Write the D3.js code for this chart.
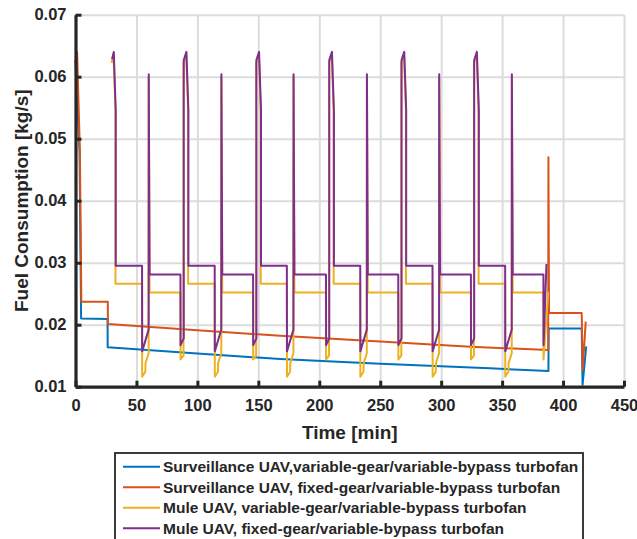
<!DOCTYPE html>
<html>
<head>
<meta charset="utf-8">
<script src="https://cdn.jsdelivr.net/npm/d3@7"></script>
<style>
  html, body { margin: 0; padding: 0; background: #fff; }
  svg { display: block; }
  text { font-family: "Liberation Sans", Arial, Helvetica, sans-serif; font-weight: 700; fill: #262626; }
</style>
</head>
<body>
<svg id="chart" width="637" height="539"></svg>
<script>
// Fuel flow histories [time (min), fuel consumption (kg/s)]
const survVariableGear = [
  [0, 0.0627], [0.4, 0.0600], [3.3, 0.0480], [4.6, 0.0210], [26.3, 0.0209], [26.4, 0.01636],
  [100, 0.01535], [168, 0.01446], [250, 0.0137], [340, 0.01297], [388, 0.01253], [388.2, 0.0194],
  [415.3, 0.0194], [416.0, 0.0103], [419.0, 0.0165]
];

const survFixedGear = [
  [0, 0.0622], [1.3, 0.0640], [3.6, 0.0480], [4.8, 0.0237], [26.5, 0.0237],
  [26.6, 0.0201], [100, 0.0191], [168, 0.0182], [250, 0.0173], [324, 0.01645],
  [387.8, 0.0159], [388.0, 0.0470], [388.5, 0.0219], [415.3, 0.0219],
  [416.1, 0.0127], [418.6, 0.0205]
];

const muleVariableGear = [
  [29.6, 0.0622], [31.2, 0.0636], [32.8, 0.0546], [32.8, 0.0266],
  [54.6, 0.0266], [54.7, 0.0116], [57.3, 0.0124], [57.4, 0.0138], [60.0, 0.0154], [60.1, 0.0600], [60.8, 0.0252],
  [86.1, 0.0252], [86.2, 0.0144], [88.6, 0.0150], [88.6, 0.0622], [90.8, 0.0636], [92.4, 0.0546], [92.4, 0.0266],
  [114.2, 0.0266], [114.3, 0.0116], [116.9, 0.0124], [117.0, 0.0138], [119.6, 0.0154], [119.7, 0.0600], [120.4, 0.0252],
  [145.7, 0.0252], [145.8, 0.0144], [148.2, 0.0150], [148.2, 0.0622], [150.4, 0.0636], [152.0, 0.0546], [152.0, 0.0266],
  [173.4, 0.0266], [173.5, 0.0116], [176.1, 0.0124], [176.2, 0.0138], [178.8, 0.0154], [178.9, 0.0600], [179.6, 0.0252],
  [205.5, 0.0252], [205.6, 0.0144], [208.0, 0.0150], [208.0, 0.0622], [210.2, 0.0636], [211.8, 0.0546], [211.8, 0.0266],
  [233.6, 0.0266], [233.7, 0.0116], [236.3, 0.0124], [236.4, 0.0138], [239.0, 0.0154], [239.1, 0.0600], [239.8, 0.0252],
  [264.8, 0.0252], [264.9, 0.0144], [267.3, 0.0150], [267.3, 0.0622], [269.5, 0.0636], [271.1, 0.0546], [271.1, 0.0266],
  [292.9, 0.0266], [293.0, 0.0116], [295.6, 0.0124], [295.7, 0.0138], [298.3, 0.0154], [298.4, 0.0600], [299.1, 0.0252],
  [324.4, 0.0252], [324.5, 0.0144], [326.9, 0.0150], [326.9, 0.0622], [329.1, 0.0636], [330.7, 0.0546], [330.7, 0.0266],
  [352.5, 0.0266], [352.6, 0.0116], [355.2, 0.0124], [355.3, 0.0138], [357.9, 0.0154], [358.0, 0.0600], [358.7, 0.0252],
  [383.9, 0.0252], [384.0, 0.0144], [387.8, 0.0253]
];

const muleFixedGear = [
  [30.0, 0.0628], [31.4, 0.0640], [33.0, 0.0546], [33.0, 0.0295],
  [54.6, 0.0295], [54.7, 0.0157], [60.0, 0.0192], [60.1, 0.0604], [60.8, 0.0281],
  [86.1, 0.0281], [86.2, 0.0167], [88.8, 0.0178], [88.8, 0.0627], [91.0, 0.0640], [92.6, 0.0546], [92.6, 0.0295],
  [114.2, 0.0295], [114.3, 0.0157], [119.6, 0.0192], [119.7, 0.0604], [120.4, 0.0281],
  [145.7, 0.0281], [145.8, 0.0167], [148.4, 0.0178], [148.4, 0.0627], [150.6, 0.0640], [152.2, 0.0546], [152.2, 0.0295],
  [173.4, 0.0295], [173.5, 0.0157], [178.8, 0.0192], [178.9, 0.0604], [179.6, 0.0281],
  [205.5, 0.0281], [205.6, 0.0167], [208.2, 0.0178], [208.2, 0.0627], [210.4, 0.0640], [212.0, 0.0546], [212.0, 0.0295],
  [233.6, 0.0295], [233.7, 0.0157], [239.0, 0.0192], [239.1, 0.0604], [239.8, 0.0281],
  [264.8, 0.0281], [264.9, 0.0167], [267.5, 0.0178], [267.5, 0.0627], [269.7, 0.0640], [271.3, 0.0546], [271.3, 0.0295],
  [292.9, 0.0295], [293.0, 0.0157], [298.3, 0.0192], [298.4, 0.0604], [299.1, 0.0281],
  [324.4, 0.0281], [324.5, 0.0167], [327.1, 0.0178], [327.1, 0.0627], [329.3, 0.0640], [330.9, 0.0546], [330.9, 0.0295],
  [352.5, 0.0295], [352.6, 0.0157], [357.9, 0.0192], [358.0, 0.0604], [358.7, 0.0281],
  [383.9, 0.0281], [384.0, 0.0167], [386.4, 0.0298]
];

const seriesNames = [
  "Surveillance UAV,variable-gear/variable-bypass turbofan",
  "Surveillance UAV, fixed-gear/variable-bypass turbofan",
  "Mule UAV, variable-gear/variable-bypass turbofan",
  "Mule UAV, fixed-gear/variable-bypass turbofan"
];
const seriesColors = ["#0072BD", "#D95319", "#EDB120", "#7E2F8E"];
const seriesData = [survVariableGear, survFixedGear, muleVariableGear, muleFixedGear];

const xTicks = [0, 50, 100, 150, 200, 250, 300, 350, 400, 450];
const yTicks = [0.01, 0.02, 0.03, 0.04, 0.05, 0.06, 0.07];

const svg = d3.select("#chart");
const plot = { left: 75.5, right: 624, top: 14.7, bottom: 386.7 };

const x = d3.scaleLinear().domain([0, 450]).range([plot.left, plot.right]);
const y = d3.scaleLinear().domain([0.01, 0.07]).range([plot.bottom, plot.top]);

// grid
svg.append("g")
  .attr("transform", `translate(0,${plot.bottom})`)
  .call(d3.axisBottom(x).tickValues(xTicks).tickSize(-(plot.bottom - plot.top)).tickFormat(""))
  .call(g => g.select(".domain").remove())
  .call(g => g.selectAll("line").attr("stroke", "#dcdcdc").attr("stroke-width", 2));
svg.append("g")
  .attr("transform", `translate(${plot.left},0)`)
  .call(d3.axisLeft(y).tickValues(yTicks).tickSize(-(plot.right - plot.left)).tickFormat(""))
  .call(g => g.select(".domain").remove())
  .call(g => g.selectAll("line").attr("stroke", "#dcdcdc").attr("stroke-width", 2));

// series
const line = d3.line().x(d => x(d[0])).y(d => y(d[1]));
svg.append("g").selectAll("path")
  .data(seriesData)
  .join("path")
  .attr("d", line)
  .attr("fill", "none")
  .attr("stroke", (d, i) => seriesColors[i])
  .attr("stroke-width", 2)
  .attr("stroke-linejoin", "round");

// axes
const xAxis = svg.append("g")
  .attr("transform", `translate(0,${plot.bottom})`)
  .call(d3.axisBottom(x).tickValues(xTicks).tickFormat(d3.format("d"))
    .tickSizeInner(-6).tickSizeOuter(0).tickPadding(13));
const yAxis = svg.append("g")
  .attr("transform", `translate(${plot.left},0)`)
  .call(d3.axisLeft(y).tickValues(yTicks).tickFormat(d3.format(".2f"))
    .tickSizeInner(-6).tickSizeOuter(0).tickPadding(9));

[xAxis, yAxis].forEach(g => {
  g.select(".domain").attr("stroke", "#262626").attr("stroke-width", 3.2);
  g.selectAll(".tick line").attr("stroke", "#262626").attr("stroke-width", 3);
  g.selectAll(".tick text")
    .attr("fill", "#262626")
    .attr("font-size", 16.5)
    .attr("font-weight", 700)
    .attr("font-family", "'Liberation Sans', Arial, sans-serif");
});

// axis titles
svg.append("text")
  .attr("x", (plot.left + plot.right) / 2)
  .attr("y", 439)
  .attr("text-anchor", "middle")
  .attr("font-size", 19)
  .text("Time [min]");
svg.append("text")
  .attr("transform", `translate(27.5,${(plot.top + plot.bottom) / 2}) rotate(-90)`)
  .attr("text-anchor", "middle")
  .attr("font-size", 19)
  .text("Fuel Consumption [kg/s]");

// legend
const legend = svg.append("g");
legend.append("rect")
  .attr("x", 115).attr("y", 453)
  .attr("width", 468).attr("height", 110)
  .attr("fill", "#fff")
  .attr("stroke", "#262626")
  .attr("stroke-width", 1.8);
const rows = legend.selectAll("g.row")
  .data(seriesNames)
  .join("g")
  .attr("class", "row")
  .attr("transform", (d, i) => `translate(0,${466.7 + i * 20.5})`);
rows.append("line")
  .attr("x1", 123).attr("x2", 160)
  .attr("stroke", (d, i) => seriesColors[i])
  .attr("stroke-width", 2);
rows.append("text")
  .attr("x", 163)
  .attr("dy", "0.36em")
  .attr("font-size", 15.5)
  .attr("font-weight", 700)
  .text(d => d);
</script>
</body>
</html>
